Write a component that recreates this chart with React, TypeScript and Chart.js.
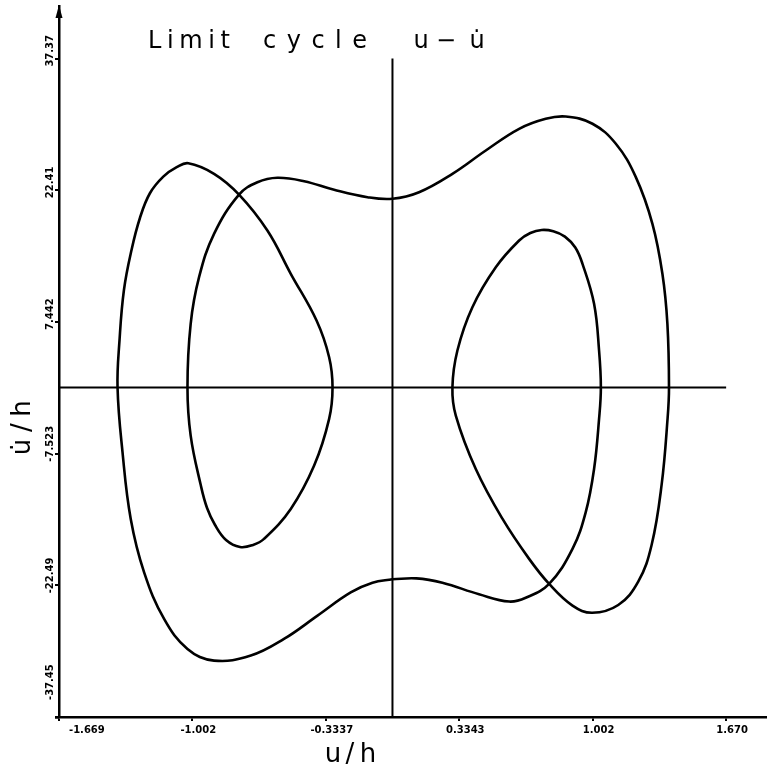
import { useEffect, useRef } from "react";
import { Chart, registerables } from "chart.js";

Chart.register(...registerables);

// Phase-plane trajectory (u/h, u̇/h) listed in traversal order; the last point closes the loop.
const uValues = [
  0, 0.12, 0.25, 0.433, 0.584, 0.667, 0.784, 0.901, 0.967, 1.009, 1.034, 1.043,
  1.034, 1.009, 0.951, 0.915, 0.863, 0.805, 0.747, 0.69, 0.634, 0.517, 0.4, 0.325, 0.3, 0.317, 0.417,
  0.551, 0.684, 0.784, 0.901, 1.0, 1.13, 1.23, 1.297, 1.347, 1.377, 1.384, 1.376,
  1.351, 1.301, 1.218, 1.118, 1.001, 0.867, 0.767, 0.634, 0.467, 0.3, 0.133, 0,
  -0.125, -0.292, -0.442, -0.576, -0.676, -0.768, -0.893, -0.968, -1.01, -1.026, -1.01, -0.959,
  -0.928, -0.888, -0.833, -0.763, -0.698, -0.643, -0.509, -0.392, -0.317, -0.3, -0.317, -0.38, -0.509, -0.626, -0.768,
  -0.893, -1.022, -1.08, -1.147, -1.214, -1.264, -1.306, -1.344, -1.366, -1.376, -1.351, -1.31,
  -1.243, -1.143, -1.026, -0.893, -0.709, -0.543, -0.375, -0.209, -0.1, 0,
];
const vValues = [
  -21.8, -21.7, -22.2, -23.5, -24.33, -23.9, -22.32, -18.34, -14.19, -9.26, -3.57, 0,
  4.2, 9.5, 14.05, 15.9, 17.14, 17.75, 17.9, 17.55, 16.7, 13.66, 9.12, 4.2, 0, -3.19, -9.26,
  -14.94, -19.48, -22.32, -24.79, -25.6, -24.72, -22.07, -17.9, -11.08, -3.5, 0, 7.23,
  12.92, 18.6, 23.9, 27.69, 29.97, 30.79, 30.53, 29.39, 26.93, 24.28, 22.19, 21.44,
  21.62, 22.46, 23.44, 23.83, 23.32, 21.92, 17.46, 12.53, 7.23, 0, -5.47, -11.15,
  -13.7, -15.63, -17.33, -18.13, -17.9, -17.21, -13.8, -8.88, -3.57, 0, 3.43, 7.6, 12.92, 17.84, 21.92,
  24.28, 25.48, 25.03, 23.96, 22.07, 19.26, 15.63, 11.08, 5.4, 0, -7.37, -14.94,
  -21.01, -26.31, -29.71, -31.04, -30.47, -28.58, -25.93, -23.3, -22.2, -21.8,
];

// Axis ticks as printed on the plot
const xTickValues = [-1.669, -1.002, -0.3337, 0.3343, 1.002, 1.67];
const xTickLabels = ["-1.669", "-1.002", "-0.3337", "0.3343", "1.002", "1.670"];
const yTickValues = [37.37, 22.41, 7.442, -7.523, -22.49, -37.45];
const yTickLabels = ["37.37", "22.41", "7.442", "-7.523", "-22.49", "-37.45"];

// Visible ranges (the axes run on past the last ticks)
const xRange = [-1.669, 1.8745];
const yRange = [-37.45, 43.35];

const FONT = '"DejaVu Sans", sans-serif';

function drawSpread(ctx: CanvasRenderingContext2D, text: string, x0: number, x1: number, base: number) {
  const chars = Array.from(text);
  const widths = chars.map((c) => ctx.measureText(c).width);
  const total = widths.reduce((a, b) => a + b, 0);
  const gap = chars.length > 1 ? (x1 - x0 - total) / (chars.length - 1) : 0;
  ctx.textAlign = "left";
  let x = x0;
  chars.forEach((c, i) => {
    ctx.fillText(c, x, base);
    x += widths[i] + gap;
  });
}

function drawCentered(ctx: CanvasRenderingContext2D, text: string, x0: number, x1: number, base: number) {
  ctx.textAlign = "center";
  ctx.fillText(text, (x0 + x1) / 2, base);
}

const plotterText = {
  id: "plotterText",
  afterDraw(chart: any) {
    const ctx: CanvasRenderingContext2D = chart.ctx;
    const xs = chart.scales.x;
    const ys = chart.scales.y;
    const area = chart.chartArea;
    ctx.save();
    ctx.fillStyle = "#000";
    ctx.strokeStyle = "#000";

    // arrowhead on the velocity axis
    const ax = area.left;
    ctx.beginPath();
    ctx.moveTo(ax, area.top - 1);
    ctx.lineTo(ax - 3.5, area.top + 12);
    ctx.lineTo(ax + 3.5, area.top + 12);
    ctx.closePath();
    ctx.fill();

    // short run of the displacement axis left of the corner
    ctx.lineWidth = 2.5;
    ctx.beginPath();
    ctx.moveTo(area.left - 4, area.bottom + 0.5);
    ctx.lineTo(area.left, area.bottom + 0.5);
    ctx.stroke();

    // tick labels
    ctx.font = `bold 10px ${FONT}`;
    ctx.textBaseline = "middle";
    const yBottom = ys.getPixelForValue(yTickValues[yTickValues.length - 1]);
    yTickValues.forEach((val, i) => {
      const py = ys.getPixelForValue(val);
      const start = Math.min(py + 8, yBottom - 17);
      ctx.save();
      ctx.translate(area.left - 9, start);
      ctx.rotate(-Math.PI / 2);
      ctx.textAlign = "left";
      ctx.fillText(yTickLabels[i], 0, 0);
      ctx.restore();
    });
    ctx.textBaseline = "alphabetic";
    ctx.textAlign = "center";
    xTickValues.forEach((val, i) => {
      const px = xs.getPixelForValue(val);
      const w = ctx.measureText(xTickLabels[i]).width;
      const cx = Math.max(px + 6, area.left + 10 + w / 2);
      ctx.fillText(xTickLabels[i], cx, area.bottom + 16);
    });

    // title
    ctx.font = `24px ${FONT}`;
    const tb = 48;
    drawSpread(ctx, "Limit", 148, 230, tb);
    drawSpread(ctx, "cycle", 263, 367, tb);
    drawCentered(ctx, "u", 412, 430, tb);
    drawCentered(ctx, "\u2212", 437, 455, tb);
    drawCentered(ctx, "u\u0307", 467, 487, tb);

    // axis titles
    ctx.font = `26px ${FONT}`;
    drawCentered(ctx, "u", 325, 341, 762);
    drawCentered(ctx, "/", 342, 358, 762);
    drawCentered(ctx, "h", 360, 376, 762);

    ctx.save();
    ctx.translate(30, 457);
    ctx.rotate(-Math.PI / 2);
    drawCentered(ctx, "u\u0307", 0, 20, 0);
    drawCentered(ctx, "/", 21, 38, 0);
    drawCentered(ctx, "h", 40, 57, 0);
    ctx.restore();

    ctx.restore();
  },
};

export default function App() {
  const ref = useRef<HTMLCanvasElement | null>(null);

  useEffect(() => {
    document.body.style.margin = "0";
    const canvas = ref.current;
    if (!canvas) return;

    const orbit = uValues.map((u, i) => ({ x: u, y: vValues[i] }));
    const vertical = [
      { x: 0, y: yTickValues[0] },
      { x: 0, y: yTickValues[yTickValues.length - 1] },
    ];
    const horizontal = [
      { x: xTickValues[0], y: 0 },
      { x: xTickValues[xTickValues.length - 1], y: 0 },
    ];

    const axisCommon = {
      type: "linear" as const,
      border: { display: true, color: "#000", width: 2.5 },
      grid: {
        display: true,
        drawOnChartArea: false,
        drawTicks: true,
        tickLength: 4,
        color: "#000",
        lineWidth: 2,
      },
      ticks: { display: false },
    };

    const chart = new Chart(canvas, {
      type: "scatter",
      data: {
        datasets: [
          {
            data: orbit,
            showLine: true,
            borderColor: "#000",
            borderWidth: 2.6,
            pointRadius: 0,
            tension: 0.4,
            fill: false,
          },
          {
            data: vertical,
            showLine: true,
            borderColor: "#000",
            borderWidth: 2,
            pointRadius: 0,
            tension: 0,
          },
          {
            data: horizontal,
            showLine: true,
            borderColor: "#000",
            borderWidth: 2,
            pointRadius: 0,
            tension: 0,
          },
        ],
      },
      options: {
        responsive: false,
        animation: false,
        events: [],
        layout: { padding: { top: 6, left: 0, right: 0, bottom: 0 } },
        plugins: {
          legend: { display: false },
          title: { display: false },
          tooltip: { enabled: false },
        },
        scales: {
          x: {
            ...axisCommon,
            position: "bottom",
            min: xRange[0],
            max: xRange[1],
            afterBuildTicks: (scale: any) => {
              scale.ticks = xTickValues.map((value) => ({ value }));
            },
            afterFit: (scale: any) => {
              scale.height = 48;
            },
          },
          y: {
            ...axisCommon,
            position: "left",
            min: yRange[0],
            max: yRange[1],
            afterBuildTicks: (scale: any) => {
              scale.ticks = yTickValues.map((value) => ({ value }));
            },
            afterFit: (scale: any) => {
              scale.width = 59;
            },
          },
        },
      },
      plugins: [plotterText],
    });

    return () => chart.destroy();
  }, []);

  return <canvas ref={ref} width={767} height={765} style={{ display: "block" }} />;
}
